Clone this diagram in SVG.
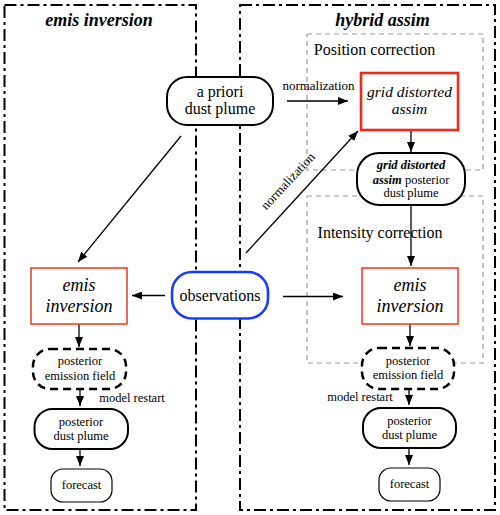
<svg xmlns="http://www.w3.org/2000/svg" width="500" height="515" viewBox="0 0 500 515">
<style>
text{font-family:"Liberation Serif","Times New Roman",serif;fill:#000;text-anchor:middle}
.t16{font-size:16px}
.t13{font-size:13px}
.t12{font-size:12.5px}
.it{font-style:italic}
.bi{font-style:italic;font-weight:bold}
.outer{fill:none;stroke:#000;stroke-width:2;stroke-dasharray:12 4 3 4}
.sub{fill:none;stroke:#999;stroke-width:1.2;stroke-dasharray:5 4}
.node{fill:#fff;stroke:#000;stroke-width:2}
.thin{fill:#fff;stroke:#000;stroke-width:1.2}
.dash{fill:#fff;stroke:#000;stroke-width:2.5;stroke-dasharray:8 5}
.red{fill:#fff;stroke:#f0402a;stroke-width:1.6}
.redb{fill:#fff;stroke:#f02a1a;stroke-width:2.6}
.blue{fill:#fff;stroke:#1a3cff;stroke-width:2.6}
.conn line{stroke:#000;stroke-width:1.3;marker-end:url(#ah)}
</style>
<defs>
<marker id="ah" viewBox="0 0 10 8" refX="10" refY="4" markerWidth="10" markerHeight="8" markerUnits="userSpaceOnUse" orient="auto">
<path d="M0,0 L10,4 L0,8 Z" fill="#000"/>
</marker>
</defs>
<rect width="500" height="515" fill="#fff"/>

<g id="panel-left">
<rect class="outer" x="4.5" y="5" width="191.5" height="505"/>
<text class="bi" x="99" y="26" style="font-size:18px">emis inversion</text>
</g>
<g id="panel-right">
<rect class="outer" x="240" y="5" width="255" height="505"/>
<text class="bi" x="382.5" y="26" style="font-size:18px">hybrid assim</text>
</g>
<g id="position-correction">
<rect class="sub" x="307" y="34" width="176" height="136"/>
<text class="t16" x="374.5" y="55">Position correction</text>
</g>
<g id="intensity-correction">
<rect class="sub" x="307" y="196" width="176" height="167"/>
<text class="t16" x="380" y="238">Intensity correction</text>
</g>

<g class="conn" id="connectors">
<line x1="181" y1="136" x2="78" y2="262"/>
<line x1="287" y1="101" x2="348" y2="101"/>
<line x1="246" y1="253" x2="358" y2="131"/>
<line x1="411" y1="130" x2="411" y2="152"/>
<line x1="411" y1="205" x2="411" y2="266"/>
<line x1="165" y1="295.5" x2="132" y2="295.5"/>
<line x1="283" y1="296.5" x2="343" y2="296.5"/>
<line x1="79" y1="324" x2="79" y2="347"/>
<line x1="80" y1="389" x2="80" y2="406"/>
<line x1="80" y1="449" x2="80" y2="466"/>
<line x1="410" y1="324" x2="410" y2="346"/>
<line x1="409" y1="389" x2="409" y2="405"/>
<line x1="409" y1="448" x2="409" y2="465"/>
<text class="t13" x="318.5" y="90">normalization</text>
<text class="t13" x="291" y="184" transform="rotate(-47 291 184)">normalization</text>
<text class="t12" x="132" y="401.5">model restart</text>
<text class="t12" x="360" y="400.5">model restart</text>
</g>

<g id="a-priori">
<rect class="node" x="167" y="77" width="106" height="48" rx="20"/>
<text class="t16" x="220" y="97">a priori</text>
<text class="t16" x="220" y="114">dust plume</text>
</g>
<g id="grid-distorted-assim">
<rect class="redb" x="361" y="73" width="97" height="57"/>
<text class="it" x="409.5" y="97" style="font-size:15.5px">grid distorted</text>
<text class="it" x="409.5" y="113.5" style="font-size:15.5px">assim</text>
</g>
<g id="grid-posterior">
<rect class="node" x="357" y="153" width="108" height="52" rx="22"/>
<text class="t12 bi" x="411" y="168.5">grid distorted</text>
<text class="t12" x="411" y="183.5"><tspan class="bi">assim</tspan> posterior</text>
<text class="t12" x="411" y="197">dust plume</text>
</g>
<g id="observations">
<rect class="blue" x="172" y="272" width="96" height="46.5" rx="20"/>
<text class="t16" x="220" y="301">observations</text>
</g>
<g id="emis-left">
<rect class="red" x="31" y="268" width="96" height="56"/>
<text class="it" x="79" y="291" style="font-size:18px">emis</text>
<text class="it" x="79" y="311.5" style="font-size:18px">inversion</text>
</g>
<g id="emis-right">
<rect class="red" x="362" y="268" width="96" height="56"/>
<text class="it" x="410" y="291" style="font-size:18px">emis</text>
<text class="it" x="410" y="311.5" style="font-size:18px">inversion</text>
</g>
<g id="emission-left">
<rect class="dash" x="33" y="349" width="93" height="40" rx="17"/>
<text class="t12" x="80" y="365">posterior</text>
<text class="t12" x="80" y="379.5">emission field</text>
</g>
<g id="emission-right">
<rect class="dash" x="362" y="348" width="92" height="41" rx="17"/>
<text class="t12" x="408" y="365">posterior</text>
<text class="t12" x="408" y="379">emission field</text>
</g>
<g id="plume-left">
<rect class="node" x="34.5" y="409" width="93.5" height="40" rx="18"/>
<text class="t12" x="81" y="425.5">posterior</text>
<text class="t12" x="81" y="440">dust plume</text>
</g>
<g id="plume-right">
<rect class="node" x="363" y="408" width="93" height="40" rx="18"/>
<text class="t12" x="409.5" y="424.5">posterior</text>
<text class="t12" x="409.5" y="438.5">dust plume</text>
</g>
<g id="forecast-left">
<rect class="thin" x="51" y="469" width="61" height="33" rx="12"/>
<text class="t12" x="81.5" y="488.5">forecast</text>
</g>
<g id="forecast-right">
<rect class="thin" x="379" y="468" width="61" height="33" rx="12"/>
<text class="t12" x="409.5" y="488">forecast</text>
</g>
</svg>
